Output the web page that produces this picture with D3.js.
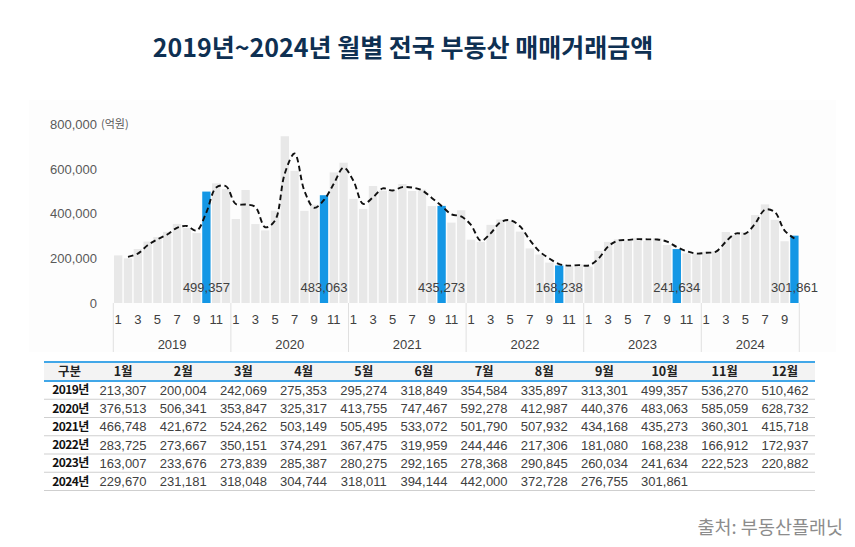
<!DOCTYPE html>
<html><head><meta charset="utf-8">
<script src="https://cdn.jsdelivr.net/npm/d3@7"></script>
<style>
html,body{margin:0;padding:0;background:#fff;}
svg{display:block;}
text{font-family:"Liberation Sans","Noto Sans CJK KR",sans-serif;}
</style></head>
<body><svg id="c" width="855" height="547"></svg>
<script>
const title = "2019년~2024년 월별 전국 부동산 매매거래금액";
const years = ["2019","2020","2021","2022","2023","2024"];
const monthHeaders = ["1월","2월","3월","4월","5월","6월","7월","8월","9월","10월","11월","12월"];
const yTicks = [0,200000,400000,600000,800000];
const unitLabel = "(억원)";
const source = "출처: 부동산플래닛";
const highlightMonth = 10;

const v2019 = [213307,200004,242069,275353,295274,318849,354584,335897,313301,499357,536270,510462];
const v2020 = [376513,506341,353847,325317,413755,747467,592278,412987,440376,483063,585059,628732];
const v2021 = [466748,421672,524262,503149,505495,533072,501790,507932,434168,435273,360301,415718];
const v2022 = [283725,273667,350151,374291,367475,319959,244446,217306,181080,168238,166912,172937];
const v2023 = [163007,233676,273839,285387,280275,292165,278368,290845,260034,241634,222523,220882];
const v2024 = [229670,231181,318048,304744,318011,394144,442000,372728,276755,301861];

// 2-month moving average trendline values (from Feb 2019)
const movingAvg = [
 206656,221037,258711,285314,307062,336717,345241,324599,406329,517814,523366,
 443488,441427,430094,339582,369536,580611,669873,502633,426682,461720,534061,606896,
 547740,444210,472967,513706,504322,519284,517431,504861,471050,434721,397787,388010,
 349722,278696,311909,362221,370883,343717,282203,230876,199193,174659,167575,169925,
 167972,198342,253758,279613,282831,286220,285267,284607,275440,250834,232079,221703,
 225276,230426,274615,311396,311378,356078,418072,407364,324742,289308
];

const yearValues = [v2019,v2020,v2021,v2022,v2023,v2024];
const series = [];
yearValues.forEach((arr,yi)=>arr.forEach((v,mi)=>series.push({year:years[yi],month:mi+1,value:v,idx:series.length})));

const svg = d3.select("#c");

// faint chart panel
svg.append("rect").attr("x",29).attr("y",100).attr("width",807).attr("height",252).attr("fill","#fdfdfd");

svg.append("text").attr("x",403).attr("y",57).attr("text-anchor","middle")
  .style("font-family","'Noto Sans CJK KR',sans-serif").style("font-weight","700")
  .style("font-size","25px").attr("fill","#0e3052").text(title);

const x = d3.scaleBand().domain(series.map(d=>d.idx)).range([113.3,799.3]).paddingInner(0.15).paddingOuter(0.075);
const y = d3.scaleLinear().domain([0,800000]).range([303,124.5]);

// y labels
const ya = svg.append("g");
ya.selectAll("text").data(yTicks).join("text")
  .attr("x",97).attr("y",d=>y(d)).attr("dy","0.35em").attr("text-anchor","end")
  .style("font-size","13px").attr("fill","#595959").text(d=>d3.format(",")(d));
svg.append("text").attr("x",101).attr("y",y(800000)).attr("dy","0.35em")
  .style("font-family","'Noto Sans CJK KR',sans-serif").style("font-size","11px").attr("fill","#595959").text(unitLabel);

// bars
svg.append("g").selectAll("rect").data(series).join("rect")
  .attr("x",d=>x(d.idx)).attr("width",x.bandwidth())
  .attr("y",d=>y(d.value)).attr("height",d=>y(0)-y(d.value))
  .attr("fill",d=>d.month===highlightMonth?"#1497e5":"#e8e8e8");

// moving average line
const line = d3.line().x((d,i)=>x(i+1)+x.bandwidth()/2).y(d=>y(d)).curve(d3.curveCatmullRom.alpha(0.5));
svg.append("path").attr("d",line(movingAvg)).attr("fill","none").attr("stroke","#111")
  .attr("stroke-width",1.9).attr("stroke-dasharray","5.5,3.5");

// highlight labels
svg.append("g").selectAll("text").data(series.filter(d=>d.month===highlightMonth)).join("text")
  .attr("x",d=>x(d.idx)+x.bandwidth()/2).attr("y",292).attr("text-anchor","middle")
  .style("font-size","13px").attr("fill","#404040").text(d=>d3.format(",")(d.value));

// month tick labels
svg.append("g").selectAll("text").data(series.filter(d=>d.month%2===1)).join("text")
  .attr("x",d=>x(d.idx)+x.bandwidth()/2).attr("y",324).attr("text-anchor","middle")
  .style("font-size","13px").attr("fill","#404040").text(d=>d.month);

// year groups
const step = x.step();
const x0 = 113.3;
const yearSpans = years.map((yr,i)=>{
  const arr = series.filter(d=>d.year===yr);
  return {year:yr,start:x0+arr[0].idx*step,end:x0+(arr[arr.length-1].idx+1)*step};
});
const bounds = [yearSpans[0].start].concat(yearSpans.map(s=>s.end));
svg.append("g").selectAll("line").data(bounds).join("line")
  .attr("x1",d=>d).attr("x2",d=>d).attr("y1",303).attr("y2",352)
  .attr("stroke","#e0e0e0").attr("stroke-width",1);
svg.append("g").selectAll("text").data(yearSpans).join("text")
  .attr("x",d=>(d.start+d.end)/2).attr("y",349).attr("text-anchor","middle")
  .style("font-size","13px").attr("fill","#404040").text(d=>d.year);

// table
const tLeft = 44, tRight = 815, firstColEnd = 93;
const colW = (tRight-firstColEnd)/12;
const headerTop = 362, headerBottom = 381, rowH = 18.25;
svg.append("rect").attr("x",tLeft).attr("y",headerTop).attr("width",tRight-tLeft).attr("height",headerBottom-headerTop).attr("fill","#f3f3f3");
svg.append("line").attr("x1",tLeft).attr("x2",tRight).attr("y1",headerTop).attr("y2",headerTop).attr("stroke","#41a7e8").attr("stroke-width",2);
svg.append("line").attr("x1",tLeft).attr("x2",tRight).attr("y1",headerBottom).attr("y2",headerBottom).attr("stroke","#41a7e8").attr("stroke-width",2);
const colCx = i => firstColEnd + colW*(i+0.5);
const hdr = svg.append("g");
hdr.append("text").attr("x",(tLeft+firstColEnd)/2+1).attr("y",(headerTop+headerBottom)/2).attr("dy","0.36em").attr("text-anchor","middle")
  .style("font-family","'Noto Sans CJK KR',sans-serif").style("font-weight","700").style("font-size","12.5px").attr("fill","#222").text("구분");
hdr.selectAll("text.m").data(monthHeaders).join("text").attr("class","m")
  .attr("x",(d,i)=>colCx(i)).attr("y",(headerTop+headerBottom)/2).attr("dy","0.36em").attr("text-anchor","middle")
  .style("font-family","'Noto Sans CJK KR',sans-serif").style("font-weight","700").style("font-size","12.5px").attr("fill","#222").text(d=>d);

yearValues.forEach((arr,ri)=>{
  const top = headerBottom + ri*rowH;
  const cy = top + rowH/2;
  svg.append("line").attr("x1",tLeft).attr("x2",tRight).attr("y1",top+rowH).attr("y2",top+rowH).attr("stroke","#cfcfcf").attr("stroke-width",1);
  svg.append("text").attr("x",(tLeft+firstColEnd)/2+2).attr("y",cy).attr("dy","0.36em").attr("text-anchor","middle")
    .style("font-family","'Noto Sans CJK KR',sans-serif").style("font-weight","700").style("font-size","12px").attr("letter-spacing","-0.6px").attr("fill","#111").text(years[ri]+"년");
  svg.append("g").selectAll("text").data(arr).join("text")
    .attr("x",(d,i)=>colCx(i)).attr("y",cy).attr("dy","0.36em").attr("text-anchor","middle")
    .style("font-size","13px").attr("fill","#404040").text(d=>d3.format(",")(d));
});

svg.append("text").attr("x",843).attr("y",534).attr("text-anchor","end")
  .style("font-family","'Noto Sans CJK KR',sans-serif").style("font-size","18.5px").attr("fill","#8c8c8c").text(source);
</script></body></html>
